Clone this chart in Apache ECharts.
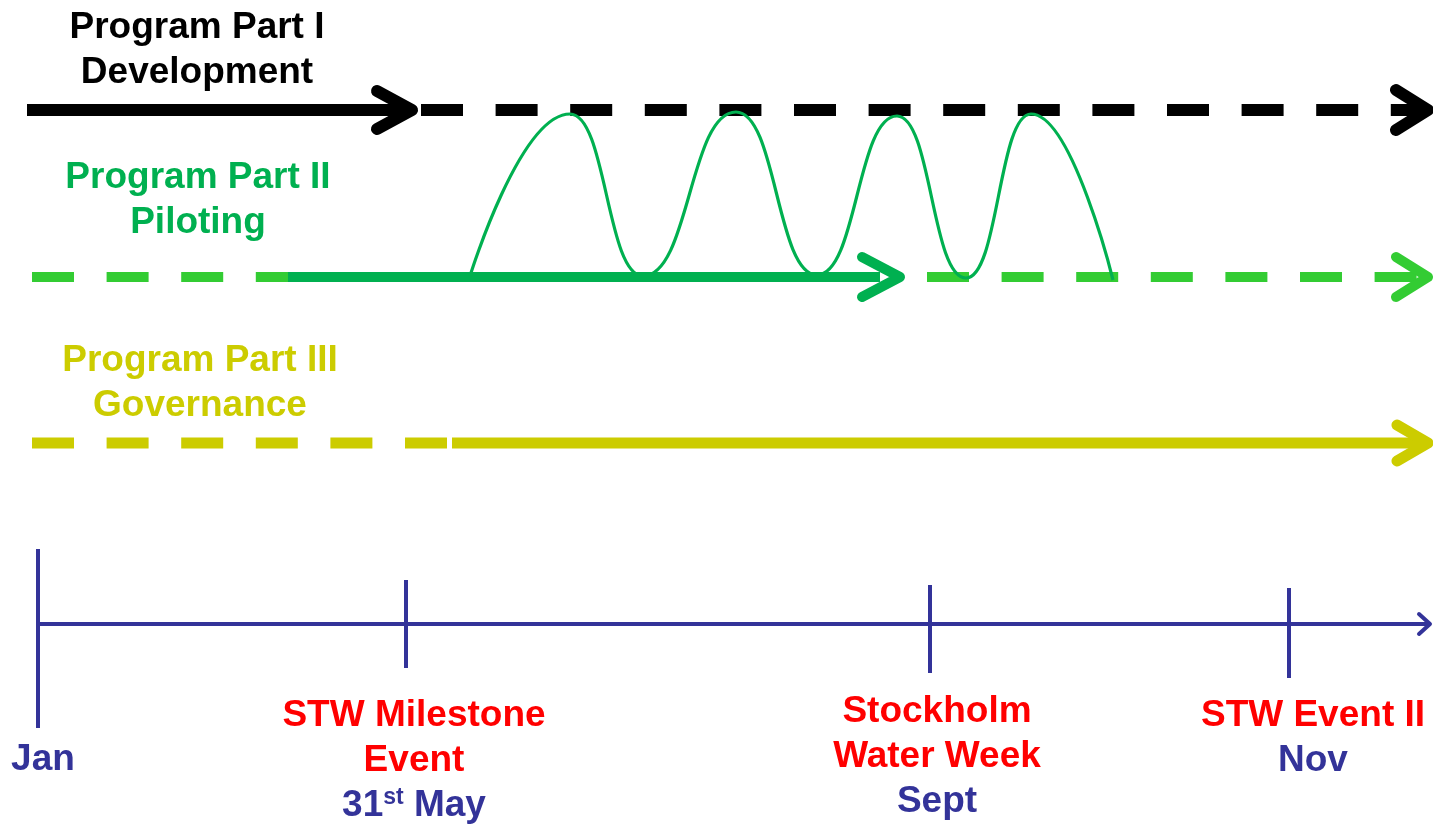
<!DOCTYPE html>
<html>
<head>
<meta charset="utf-8">
<script src="https://cdn.jsdelivr.net/npm/echarts@6/dist/echarts.min.js"></script>
<style>
  html, body { margin: 0; padding: 0; background: #fff; }
  #main { width: 1433px; height: 830px; }
</style>
</head>
<body>
<div id="main"></div>
<script>
// timeline rows (y) and milestone positions (x) in diagram units
var rows = { dev: 110, pilot: 277, gov: 443, axis: 624 };
var milestones = [
    { name: 'Jan',   x: 38,   top: 549, bottom: 728 },
    { name: 'May',   x: 406,  top: 580, bottom: 668 },
    { name: 'Sept',  x: 930,  top: 585, bottom: 673 },
    { name: 'Nov',   x: 1289, top: 588, bottom: 678 }
];

// part segments: [start, end]
var devSolid = [27, 405];
var devDashed = [421, 1425];
var pilotDashed1 = [32, 290];
var pilotSolid = [288, 880];
var pilotDashed2 = [927, 1425];
var govDashed = [32, 450];
var govSolid = [452, 1420];
var axisSpan = [38, 1430];

// piloting iterations (green wave): peaks and valleys
var waveX = [470, 570, 643, 736, 817, 897, 966, 1031, 1113];
var waveY = [276, 114, 276, 112, 275, 116, 278, 114, 280];

// labels
var partTitles = [
    { x: 197, y: 50,  lines: ['Program Part I', 'Development'], color: '#000000' },
    { x: 198, y: 200, lines: ['Program Part II', 'Piloting'], color: '#00b050' },
    { x: 200, y: 383, lines: ['Program Part III', 'Governance'], color: '#cccc00' }
];
var eventLabels = [
    { x: 43,   y: 760, text: '{b|Jan}' },
    { x: 414,  y: 761, text: '{r|STW Milestone}\n{r|Event}\n{b|31}{s|st}{b| May}' },
    { x: 937,  y: 757, text: '{r|Stockholm}\n{r|Water Week}\n{b|Sept}' },
    { x: 1313, y: 738, text: '{r|STW Event II}\n{b|Nov}' }
];

var FONT = '"Liberation Sans", Arial, sans-serif';
var NAVY = '#333399';
var FS = 37;

function seg(points, color, width, dash, cap) {
    return {
        type: 'line',
        data: points,
        symbol: 'none',
        silent: true,
        animation: false,
        lineStyle: {
            color: color,
            width: width,
            type: dash ? [42, 32.6] : 'solid',
            cap: cap || 'butt',
            join: 'round'
        }
    };
}

function chevron(tipX, y, color, width, len, half) {
    return seg([[tipX - len, y - half], [tipX, y], [tipX - len, y + half]], color, width, false, 'round');
}

var series = [];

// Part I
series.push(seg([[devSolid[0], rows.dev], [devSolid[1], rows.dev]], '#000', 12));
series.push(chevron(412, rows.dev, '#000', 12, 35, 19));
series.push(seg([[devDashed[0], rows.dev], [devDashed[1], rows.dev]], '#000', 12, true));
series.push(chevron(1428, rows.dev, '#000', 12, 32, 20));

// Part II
series.push(seg([[pilotDashed1[0], rows.pilot], [pilotDashed1[1], rows.pilot]], '#33cc33', 10, true));
series.push(seg([[pilotSolid[0], rows.pilot], [pilotSolid[1], rows.pilot]], '#00b050', 10));
series.push(chevron(900, rows.pilot, '#00b050', 10, 38, 20));
series.push(seg([[pilotDashed2[0], rows.pilot], [pilotDashed2[1], rows.pilot]], '#33cc33', 10, true));
series.push(chevron(1428, rows.pilot, '#33cc33', 10, 32, 20));

// wave
var wave = seg(waveX.map(function (x, i) { return [x, waveY[i]]; }), '#00b050', 3.2);
wave.smooth = 0.5;
wave.smoothMonotone = 'x';
series.push(wave);

// Part III
series.push(seg([[govDashed[0], rows.gov], [govDashed[1], rows.gov]], '#cccc00', 11, true));
series.push(seg([[govSolid[0], rows.gov], [govSolid[1], rows.gov]], '#cccc00', 11));
series.push(chevron(1428, rows.gov, '#cccc00', 11, 31, 18));

// time axis
series.push(seg([[axisSpan[0], rows.axis], [axisSpan[1], rows.axis]], NAVY, 4));
series.push(chevron(1430, rows.axis, NAVY, 4, 11, 10));
milestones.forEach(function (m) {
    series.push(seg([[m.x, m.top], [m.x, m.bottom]], NAVY, 4));
});

// text
series.push({
    type: 'scatter',
    symbolSize: 0,
    silent: true,
    animation: false,
    itemStyle: { opacity: 1 },
    data: partTitles.map(function (t) {
        return { value: [t.x, t.y], label: { color: t.color } };
    }),
    label: {
        show: true,
        position: 'inside',
        align: 'center',
        verticalAlign: 'middle',
        fontFamily: FONT,
        fontWeight: 'bold',
        fontSize: FS,
        lineHeight: 45,
        opacity: 1,
        formatter: function (p) {
            return partTitles[p.dataIndex].lines.join('\n');
        }
    }
});

series.push({
    type: 'scatter',
    symbolSize: 0,
    silent: true,
    animation: false,
    itemStyle: { opacity: 1 },
    data: eventLabels.map(function (t) { return [t.x, t.y]; }),
    label: {
        show: true,
        position: 'inside',
        align: 'center',
        verticalAlign: 'middle',
        opacity: 1,
        formatter: function (p) { return eventLabels[p.dataIndex].text; },
        rich: {
            r: { color: '#ff0000', fontFamily: FONT, fontWeight: 'bold', fontSize: FS, lineHeight: 45 },
            b: { color: NAVY, fontFamily: FONT, fontWeight: 'bold', fontSize: FS, lineHeight: 45 },
            s: { color: NAVY, fontFamily: FONT, fontWeight: 'bold', fontSize: 23, lineHeight: 45, padding: [0, 0, 16, 0] }
        }
    }
});

var myChart = echarts.init(document.getElementById('main'));
myChart.setOption({
    backgroundColor: '#ffffff',
    grid: { left: 0, right: 0, top: 0, bottom: 0 },
    xAxis: { type: 'value', min: 0, max: 1433, show: false },
    yAxis: { type: 'value', min: 0, max: 830, inverse: true, show: false },
    series: series
});
</script>
</body>
</html>
